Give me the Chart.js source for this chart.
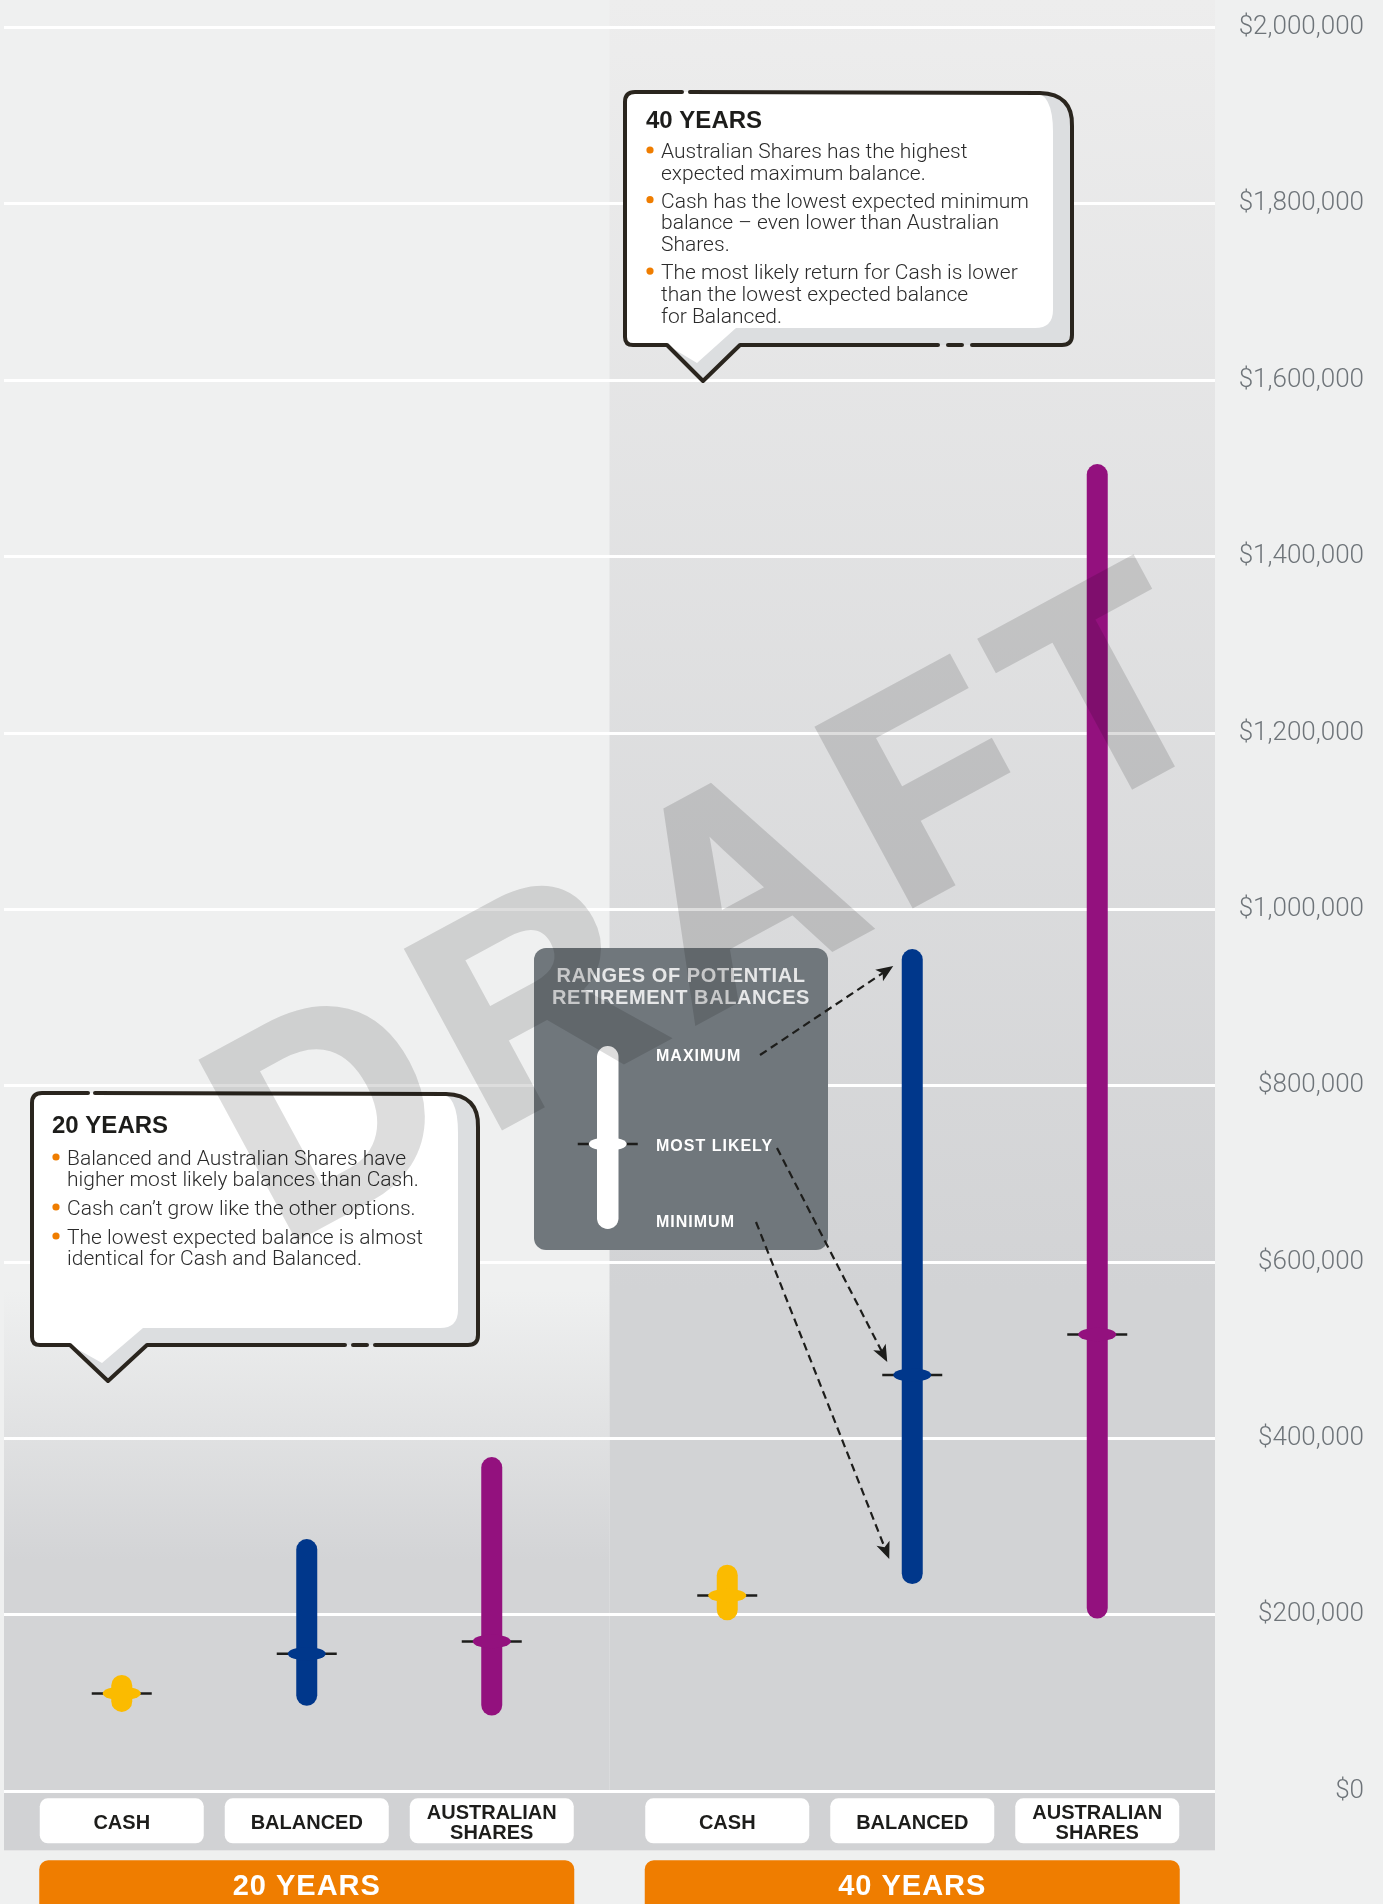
<!DOCTYPE html>
<html>
<head>
<meta charset="utf-8">
<title>Ranges of potential retirement balances</title>
<script src="https://cdn.jsdelivr.net/npm/chart.js@4.4.1/dist/chart.umd.min.js"></script>
<style>
  html, body { margin: 0; padding: 0; background: #eff0f0; }
  #wrap { width: 1383px; height: 1904px; }
</style>
</head>
<body>
<div id="wrap"><canvas id="balances" width="1383" height="1904"></canvas></div>
<script>
var years = ['20 YEARS', '40 YEARS'];
var funds = ['CASH', 'BALANCED', 'AUSTRALIAN SHARES'];
var fundColors = ['#fbbb00', '#00378b', '#93117e'];

var cashMin = [90000, 194000];
var cashMax = [132000, 257000];
var cashLikely = [111000, 222000];
var balancedMin = [97000, 235000];
var balancedMax = [286000, 955000];
var balancedLikely = [156000, 472000];
var sharesMin = [86000, 196000];
var sharesMax = [379000, 1505000];
var sharesLikely = [170000, 518000];

var yTicks = [0, 200000, 400000, 600000, 800000, 1000000, 1200000, 1400000, 1600000, 1800000, 2000000];

var notes20 = [
    ['Balanced and Australian Shares have', 'higher most likely balances than Cash.'],
    ['Cash can\u2019t grow like the other options.'],
    ['The lowest expected balance is almost', 'identical for Cash and Balanced.']
];
var notes40 = [
    ['Australian Shares has the highest', 'expected maximum balance.'],
    ['Cash has the lowest expected minimum', 'balance \u2013 even lower than Australian', 'Shares.'],
    ['The most likely return for Cash is lower', 'than the lowest expected balance', 'for Balanced.']
];
var legendTitle = ['RANGES OF POTENTIAL', 'RETIREMENT BALANCES'];
var legendLabels = ['MAXIMUM', 'MOST LIKELY', 'MINIMUM'];

var minSets = [cashMin, balancedMin, sharesMin];
var maxSets = [cashMax, balancedMax, sharesMax];
var likelySets = [cashLikely, balancedLikely, sharesLikely];

var LIGHT = 'Roboto, "Liberation Sans", sans-serif';
var BOLD = '"Liberation Sans", Arial, sans-serif';
var INK = '#1d1d1b';

function likelyMark(ctx, x, y, color) {
    ctx.strokeStyle = INK;
    ctx.lineWidth = 2.5;
    ctx.beginPath();
    ctx.moveTo(x - 30, y);
    ctx.lineTo(x + 30, y);
    ctx.stroke();
    ctx.beginPath();
    ctx.ellipse(x, y, 19, 6.8, 0, 0, Math.PI * 2);
    ctx.fillStyle = color;
    ctx.fill();
}

function dashedArrow(ctx, x1, y1, x2, y2) {
    var ang = Math.atan2(y2 - y1, x2 - x1), head = 17;
    var c = Math.cos(ang), s = Math.sin(ang);
    var ex = x2 - c * head, ey = y2 - s * head;
    ctx.save();
    ctx.strokeStyle = INK;
    ctx.fillStyle = INK;
    ctx.lineWidth = 2.2;
    ctx.setLineDash([8, 5]);
    ctx.beginPath();
    ctx.moveTo(x1, y1);
    ctx.lineTo(x2 - c * 10, y2 - s * 10);
    ctx.stroke();
    ctx.setLineDash([]);
    ctx.beginPath();
    ctx.moveTo(x2, y2);
    ctx.lineTo(ex - s * 7, ey + c * 7);
    ctx.lineTo(x2 - c * head * 0.75, y2 - s * head * 0.75);
    ctx.lineTo(ex + s * 7, ey - c * 7);
    ctx.closePath();
    ctx.fill();
    ctx.restore();
}

function bubble(ctx, b) {
    ctx.save();
    // outer shape, filled with the shadow grey
    ctx.beginPath();
    ctx.moveTo(b.l + 10, b.t);
    ctx.lineTo(b.r - 32, b.t + 1);
    ctx.quadraticCurveTo(b.r + 1, b.t + 2, b.r, b.t + 34);
    ctx.lineTo(b.r, b.b - 10);
    ctx.quadraticCurveTo(b.r, b.b, b.r - 10, b.b);
    ctx.lineTo(b.tr, b.b);
    ctx.lineTo(b.tipX, b.tipY);
    ctx.lineTo(b.tl, b.b);
    ctx.lineTo(b.l + 8, b.b);
    ctx.quadraticCurveTo(b.l, b.b, b.l, b.b - 8);
    ctx.lineTo(b.l, b.t + 10);
    ctx.quadraticCurveTo(b.l, b.t, b.l + 10, b.t);
    ctx.closePath();
    ctx.fillStyle = '#dcdee0';
    ctx.fill();
    // white face
    ctx.beginPath();
    ctx.moveTo(b.l + 10, b.t);
    ctx.lineTo(b.r - 40, b.t);
    ctx.quadraticCurveTo(b.r - b.sr, b.t, b.r - b.sr, b.t + 40);
    ctx.lineTo(b.r - b.sr, b.b - b.sb - 18);
    ctx.quadraticCurveTo(b.r - b.sr, b.b - b.sb, b.r - b.sr - 18, b.b - b.sb);
    ctx.lineTo(b.tr - 4, b.b - b.sb);
    ctx.lineTo(b.tipX - 6, b.tipY - 18);
    ctx.lineTo(b.tl, b.b);
    ctx.lineTo(b.l + 8, b.b);
    ctx.quadraticCurveTo(b.l, b.b, b.l, b.b - 8);
    ctx.lineTo(b.l, b.t + 10);
    ctx.quadraticCurveTo(b.l, b.t, b.l + 10, b.t);
    ctx.closePath();
    ctx.fillStyle = '#ffffff';
    ctx.fill();
    // sketchy outline with its gaps
    ctx.strokeStyle = '#2a251e';
    ctx.lineWidth = 4;
    ctx.lineCap = 'round';
    ctx.lineJoin = 'round';
    ctx.beginPath();
    ctx.moveTo(b.gap[1], b.t);
    ctx.lineTo(b.r - 32, b.t + 1);
    ctx.quadraticCurveTo(b.r + 1, b.t + 2, b.r, b.t + 34);
    ctx.lineTo(b.r, b.b - 10);
    ctx.quadraticCurveTo(b.r, b.b, b.r - 10, b.b);
    ctx.lineTo(b.dash[0], b.b);
    ctx.moveTo(b.dash[1], b.b);
    ctx.lineTo(b.dash[2], b.b);
    ctx.moveTo(b.dash[3], b.b);
    ctx.lineTo(b.tr, b.b);
    ctx.lineTo(b.tipX, b.tipY);
    ctx.lineTo(b.tl, b.b);
    ctx.lineTo(b.l + 8, b.b);
    ctx.quadraticCurveTo(b.l, b.b, b.l, b.b - 8);
    ctx.lineTo(b.l, b.t + 10);
    ctx.quadraticCurveTo(b.l, b.t, b.l + 10, b.t);
    ctx.lineTo(b.gap[0], b.t);
    ctx.stroke();
    ctx.restore();
}

function notes(ctx, n, title, bullets) {
    ctx.save();
    ctx.textAlign = 'left';
    ctx.textBaseline = 'alphabetic';
    ctx.fillStyle = INK;
    ctx.font = 'bold 24px ' + BOLD;
    ctx.fillText(title, n.titleX, n.titleY);
    var y = n.firstY;
    bullets.forEach(function(lines) {
        ctx.fillStyle = '#ef7d00';
        ctx.beginPath();
        ctx.arc(n.dotX, y - 8, 3.6, 0, Math.PI * 2);
        ctx.fill();
        ctx.fillStyle = '#2b2b2b';
        ctx.font = '300 21px ' + LIGHT;
        lines.forEach(function(line, i) {
            ctx.fillText(line, n.textX, y);
            if (i < lines.length - 1) y += n.lh;
        });
        y += n.gap;
    });
    ctx.restore();
}

function watermark(ctx) {
    // drawn opaque off screen, then laid over at low alpha so strokes do not double up
    var off = document.createElement('canvas');
    off.width = ctx.canvas.width;
    off.height = ctx.canvas.height;
    var o = off.getContext('2d');
    o.translate(281, 1246);
    o.rotate(-28.4 * Math.PI / 180);
    o.font = 'bold 290px ' + BOLD;
    o.letterSpacing = '24px';
    o.fillStyle = '#000000';
    o.strokeStyle = '#000000';
    o.lineWidth = 7;
    o.lineJoin = 'miter';
    o.fillText('DRAFT', 0, 0);
    o.strokeText('DRAFT', 0, 0);
    ctx.save();
    ctx.globalAlpha = 0.13;
    ctx.drawImage(off, 0, 0);
    ctx.restore();
}

var chartDecor = {
    id: 'chartDecor',
    beforeDraw: function(chart) {
        var ctx = chart.ctx, a = chart.chartArea, xs = chart.scales.x;
        var mid = (xs.getPixelForValue(0) + xs.getPixelForValue(1)) / 2;
        ctx.save();
        ctx.fillStyle = '#eff0f0';
        ctx.fillRect(0, 0, chart.width, chart.height);
        var g1 = ctx.createLinearGradient(0, 1290, 0, 1560);
        g1.addColorStop(0, '#eff0f0');
        g1.addColorStop(1, '#d3d4d6');
        ctx.fillStyle = g1;
        ctx.fillRect(a.left, 0, mid - a.left, a.bottom);
        var g2 = ctx.createLinearGradient(0, 0, 0, 1290);
        g2.addColorStop(0, '#ededed');
        g2.addColorStop(1, '#d2d3d5');
        ctx.fillStyle = g2;
        ctx.fillRect(mid, 0, a.right - mid, a.bottom);
        ctx.fillStyle = '#d1d2d4';
        ctx.fillRect(a.left, a.bottom, a.right - a.left, 59);
        ctx.restore();
    },
    afterDatasetsDraw: function(chart) {
        var ctx = chart.ctx, ys = chart.scales.y;
        ctx.save();
        funds.forEach(function(f, k) {
            chart.getDatasetMeta(k).data.forEach(function(el, i) {
                likelyMark(ctx, el.x, ys.getPixelForValue(likelySets[k][i]), fundColors[k]);
            });
        });
        ctx.restore();
    },
    afterDraw: function(chart) {
        var ctx = chart.ctx, a = chart.chartArea, xs = chart.scales.x, ys = chart.scales.y;
        ctx.save();

        // fund label boxes
        funds.forEach(function(f, k) {
            chart.getDatasetMeta(k).data.forEach(function(el) {
                ctx.fillStyle = '#ffffff';
                ctx.beginPath();
                ctx.roundRect(el.x - 82, a.bottom + 7, 164, 45, 8);
                ctx.fill();
                ctx.fillStyle = INK;
                ctx.font = 'bold 20px ' + BOLD;
                ctx.textAlign = 'center';
                ctx.textBaseline = 'alphabetic';
                var words = f.split(' ');
                if (words.length > 1) {
                    ctx.fillText(words[0], el.x, a.bottom + 28);
                    ctx.fillText(words[1], el.x, a.bottom + 48);
                } else {
                    ctx.fillText(f, el.x, a.bottom + 38);
                }
            });
        });

        // year banners
        years.forEach(function(yr, i) {
            var cx = xs.getPixelForValue(i);
            ctx.fillStyle = '#ef7d00';
            ctx.beginPath();
            ctx.roundRect(cx - 267.5, a.bottom + 69, 535, 70, [9, 9, 0, 0]);
            ctx.fill();
            ctx.fillStyle = '#ffffff';
            ctx.font = 'bold 29px ' + BOLD;
            ctx.letterSpacing = '1px';
            ctx.textAlign = 'center';
            ctx.fillText(yr, cx, a.bottom + 104);
            ctx.letterSpacing = '0px';
        });

        // speech bubbles
        bubble(ctx, {l: 625, t: 92, r: 1072, b: 345, tl: 667, tr: 740, tipX: 703, tipY: 381,
            sr: 19, sb: 17, gap: [682, 690], dash: [972, 962, 948, 938]});
        notes(ctx, {titleX: 646, titleY: 128, dotX: 650, textX: 661, firstY: 158, lh: 21.7, gap: 28},
            '40 YEARS', notes40);
        bubble(ctx, {l: 32, t: 1093, r: 478, b: 1345, tl: 70, tr: 147, tipX: 108, tipY: 1381,
            sr: 20, sb: 17, gap: [88, 95], dash: [375, 367, 353, 345]});
        notes(ctx, {titleX: 52, titleY: 1133, dotX: 56, textX: 67, firstY: 1165, lh: 21, gap: 29},
            '20 YEARS', notes20);

        // legend box
        var bx = 534, by = 948;
        ctx.fillStyle = '#70777c';
        ctx.beginPath();
        ctx.roundRect(bx, by, 294, 302, 12);
        ctx.fill();
        ctx.fillStyle = '#e6e7e8';
        ctx.font = 'bold 20px ' + BOLD;
        ctx.letterSpacing = '0.6px';
        ctx.textAlign = 'center';
        ctx.fillText(legendTitle[0], bx + 147, by + 34);
        ctx.fillText(legendTitle[1], bx + 147, by + 56);
        ctx.fillStyle = '#ffffff';
        ctx.beginPath();
        ctx.roundRect(bx + 63, by + 98, 21.5, 183, 10.75);
        ctx.fill();
        likelyMark(ctx, bx + 73.75, by + 196, '#ffffff');
        ctx.fillStyle = '#ffffff';
        ctx.font = 'bold 16px ' + BOLD;
        ctx.letterSpacing = '1px';
        ctx.textAlign = 'left';
        ctx.fillText(legendLabels[0], bx + 122, by + 113);
        ctx.fillText(legendLabels[1], bx + 122, by + 203);
        ctx.fillText(legendLabels[2], bx + 122, by + 279);
        ctx.letterSpacing = '0px';

        // arrows to the 40 year balanced range
        var bal = chart.getDatasetMeta(1).data[1];
        dashedArrow(ctx, bx + 226, by + 107, bal.x - 19, ys.getPixelForValue(balancedMax[1]) + 17);
        dashedArrow(ctx, bx + 243, by + 200, bal.x - 25, ys.getPixelForValue(balancedLikely[1]) - 13);
        dashedArrow(ctx, bx + 222, by + 274, bal.x - 23, ys.getPixelForValue(balancedMin[1]) - 25);
        ctx.restore();

        watermark(ctx);
    }
};

// lineHeight kept tiny so the label half-height does not push the plot area down
var tickFont = {family: LIGHT, size: 26, weight: '300', lineHeight: 0.3};
var m = document.createElement('canvas').getContext('2d');
m.font = '300 26px ' + LIGHT;
var tickPad = 149 - m.measureText('$2,000,000').width;

var datasets = funds.map(function(f, k) {
    return {
        label: f,
        data: years.map(function(y, i) { return [minSets[k][i], maxSets[k][i]]; }),
        backgroundColor: fundColors[k],
        borderRadius: 11,
        borderSkipped: false,
        barPercentage: 0.1135,
        categoryPercentage: 0.9166
    };
});

var ctx = document.getElementById('balances');
var chart = new Chart(ctx, {
    type: 'bar',
    data: { labels: years, datasets: datasets },
    plugins: [chartDecor],
    options: {
        responsive: false,
        devicePixelRatio: 1,
        animation: false,
        layout: { padding: { left: 4, right: 19, top: 26.7, bottom: 112.7 } },
        plugins: { legend: { display: false }, tooltip: { enabled: false } },
        scales: {
            x: { display: false },
            y: {
                position: 'right',
                min: 0,
                max: 2000000,
                border: { display: false },
                grid: { color: '#ffffff', lineWidth: 3, drawTicks: false },
                afterBuildTicks: function(axis) {
                    axis.ticks = yTicks.map(function(v) { return {value: v}; });
                },
                afterFit: function(axis) { axis.width = 149; },
                ticks: {
                    crossAlign: 'far',
                    padding: tickPad,
                    color: '#6e7479',
                    font: tickFont,
                    callback: function(v) { return '$' + v.toLocaleString('en-US'); }
                }
            }
        }
    }
});
</script>
</body>
</html>
